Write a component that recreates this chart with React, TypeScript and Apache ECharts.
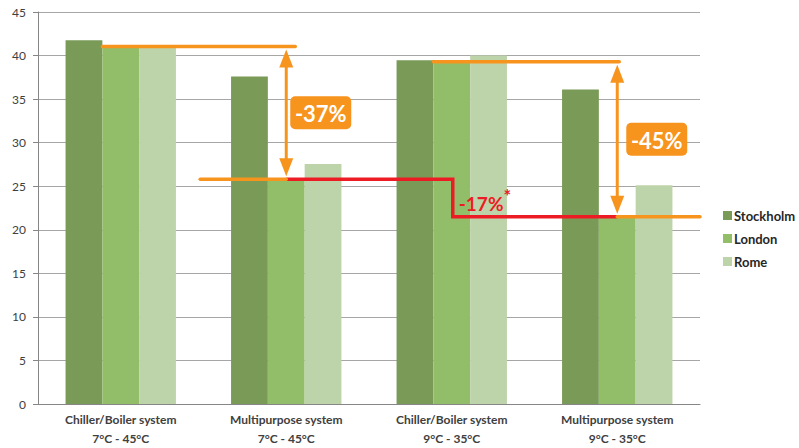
import React, { useEffect, useRef } from "react";
import * as echarts from "echarts";

const categories = [
  "Chiller/Boiler system\n7°C - 45°C",
  "Multipurpose system\n7°C - 45°C",
  "Chiller/Boiler system\n9°C - 35°C",
  "Multipurpose system\n9°C - 35°C",
];
const seriesNames = ["Stockholm", "London", "Rome"];
const stockholm = [41.75, 37.6, 39.45, 36.1];
const london = [41.05, 25.8, 39.3, 21.5];
const rome = [41.0, 27.55, 40.0, 25.1];
const yTicks = { min: 0, max: 45, interval: 5 };
const reductionLabels = ["-37%", "-45%", "-17%"];

const COLORS = ["#7A9A57", "#92BE6A", "#BDD4AA"];
const ORANGE = "#F7941D";
const RED = "#ED1C24";
const FONT = "Lato, 'Open Sans', sans-serif";

export default function App() {
  const ref = useRef<HTMLDivElement>(null);

  useEffect(() => {
    if (!ref.current) return;
    const chart = echarts.init(ref.current, null, { renderer: "svg" });
    const catGap = 0.333;
    chart.setOption({
      animation: false,
      textStyle: { fontFamily: FONT },
      grid: { left: 38, right: 99, top: 12, bottom: 39, containLabel: false },
      legend: {
        orient: "vertical",
        left: 718,
        top: 204,
        itemWidth: 9,
        itemHeight: 9,
        itemGap: 10,
        icon: "rect",
        data: seriesNames,
        textStyle: { fontFamily: FONT, fontSize: 13, fontWeight: "bold", color: "#262626", padding: [0, 0, 0, -3] },
      },
      xAxis: {
        type: "category",
        data: categories,
        axisLine: { lineStyle: { color: "#868686", width: 1 } },
        axisTick: { show: false },
        axisLabel: {
          fontFamily: FONT,
          fontSize: 12,
          fontWeight: "bold",
          color: "#404040",
          lineHeight: 19,
          margin: 6,
          interval: 0,
        },
      },
      yAxis: {
        type: "value",
        min: yTicks.min,
        max: yTicks.max,
        interval: yTicks.interval,
        axisLine: { show: true, lineStyle: { color: "#868686", width: 1 } },
        axisTick: { show: true, length: 5, lineStyle: { color: "#868686" } },
        axisLabel: { fontFamily: FONT, fontSize: 12, color: "#404040", margin: 12 },
        splitLine: { lineStyle: { color: "#A6A6A6", width: 1 } },
      },
      series: [stockholm, london, rome].map((d, i) => ({
        name: seriesNames[i],
        type: "bar",
        data: d,
        barGap: "0%",
        barCategoryGap: catGap * 100 + "%",
        itemStyle: { color: COLORS[i] },
      })),
    });

    const px = (ci: number, v: number) =>
      chart.convertToPixel({ xAxisIndex: 0, yAxisIndex: 0 }, [ci, v]) as number[];
    const c = (ci: number) => px(ci, 0)[0];
    const y = (v: number) => px(0, v)[1];
    const B = c(1) - c(0);
    const barW = (B * (1 - catGap)) / 3;
    const right = px(categories.length - 1, 0)[0] + B / 2;

    const hline = (x1: number, x2: number, yy: number, color: string) => ({
      type: "line",
      shape: { x1, y1: yy, x2, y2: yy },
      style: { stroke: color, lineWidth: 3.5, lineCap: "round" },
      z: 100,
    });
    const arrow = (x: number, yTop: number, yBot: number) => {
      const t = yTop + 3;
      const b = yBot - 3;
      const hl = 18;
      const hw = 7;
      return [
        {
          type: "line",
          shape: { x1: x, y1: t + hl - 2, x2: x, y2: b - hl + 2 },
          style: { stroke: ORANGE, lineWidth: 3 },
          z: 100,
        },
        {
          type: "polygon",
          shape: { points: [[x, t], [x - hw, t + hl], [x + hw, t + hl]] },
          style: { fill: ORANGE },
          z: 100,
        },
        {
          type: "polygon",
          shape: { points: [[x, b], [x - hw, b - hl], [x + hw, b - hl]] },
          style: { fill: ORANGE },
          z: 100,
        },
      ];
    };
    const badge = (x: number, yMid: number, text: string) => ({
      type: "group",
      z: 110,
      children: [
        {
          type: "rect",
          shape: { x, y: yMid - 16.5, width: 61, height: 33, r: 5 },
          style: { fill: ORANGE },
          z: 110,
        },
        {
          type: "text",
          x: x + 30.5,
          y: yMid + 1,
          style: {
            text,
            fill: "#FFFFFF",
            font: `bold 22px ${FONT}`,
            align: "center",
            verticalAlign: "middle",
          },
          z: 111,
        },
      ],
    });

    const yL0 = y(london[0]);
    const yL1 = y(london[1]);
    const yL2 = y(london[2]);
    const yL3 = y(london[3]);
    const c1 = c(1);
    const c2 = c(2);
    const c3 = c(3);

    const graphic: any[] = [
      hline(c(0) - barW / 2, c1 + 9, yL0, ORANGE),
      ...arrow(c1, yL0, yL1),
      badge(c1 + 4, (yL0 + yL1) / 2, reductionLabels[0]),
      hline(c1 - 0.52 * B, c1, yL1, ORANGE),
      {
        type: "polyline",
        shape: { points: [[c1, yL1], [c2 + 1, yL1], [c2 + 1, yL3], [c3, yL3]] },
        style: { stroke: RED, lineWidth: 3.5, fill: null, lineJoin: "miter" },
        z: 99,
      },
      hline(c3, right, yL3, ORANGE),
      hline(c2 - barW / 2, c3 + 2, yL2, ORANGE),
      ...arrow(c3, yL2, yL3),
      badge(c3 + 9, (yL2 + yL3) / 2, reductionLabels[1]),
      {
        type: "text",
        x: c2 + 7,
        y: yL3 - 4,
        style: {
          text: `{a|${reductionLabels[2]}}{b|*}`,
          align: "left",
          verticalAlign: "bottom",
          fill: RED,
          rich: {
            a: { fontSize: 19, fontWeight: "bold", fontFamily: FONT, fill: RED, lineHeight: 22, verticalAlign: "bottom" },
            b: { fontSize: 18, fontWeight: "bold", fontFamily: FONT, fill: RED, lineHeight: 22, padding: [0, 0, 8, 0], verticalAlign: "bottom" },
          },
        },
        z: 100,
      },
    ];
    chart.setOption({ graphic });

    return () => chart.dispose();
  }, []);

  return (
    <div
      ref={ref}
      style={{ position: "absolute", left: 0, top: 0, width: 799, height: 448, background: "#fff" }}
    />
  );
}
